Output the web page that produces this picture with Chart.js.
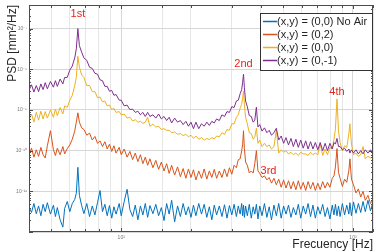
<!DOCTYPE html>
<html>
<head>
<meta charset="utf-8">
<script src="https://cdn.jsdelivr.net/npm/chart.js@4.4.1/dist/chart.umd.min.js"></script>
<style>
  html, body { margin: 0; padding: 0; background: #fff; }
  #wrap { width: 376px; height: 252px; }
</style>
</head>
<body>
<div id="wrap"><canvas id="psdChart" width="376" height="252"></canvas></div>
<script>
// frequency samples [Hz]
const freqHz = [
  40, 41, 42, 43, 44, 45, 46, 47, 48, 49.5,
  51, 52, 53, 54.5, 56, 57, 58.5, 60, 61.5, 63,
  64, 65, 66, 67.5, 69, 71, 73, 75, 77, 79,
  81, 83, 85, 87, 89, 91, 93, 95, 98, 100,
  103, 106, 109, 112, 115, 118, 121, 124, 127, 130,
  133, 137, 141, 145, 149, 153, 157, 161, 165, 170,
  175, 180, 185, 190, 195, 200, 205, 210, 216, 222,
  228, 234, 240, 246, 252, 258, 265, 272, 279, 286,
  293, 300, 307, 314, 320, 326, 331, 334, 337, 340,
  344, 350, 357, 364, 371, 377, 383, 389, 396, 405,
  415, 425, 435, 445, 456, 467, 478, 490, 502, 514,
  527, 540, 553, 567, 581, 595, 610, 625, 640, 656,
  672, 688, 705, 722, 740, 758, 776, 795, 814, 828,
  840, 853, 866, 880, 900, 920, 940, 960, 970, 985,
  1005, 1030, 1055, 1080, 1105, 1130, 1160, 1190, 1220
];

// log10 of PSD [mm^2/Hz]
const psdNoAir = [
  -11.38, -11.52, -11.3, -11.55, -11.36, -11.6, -11.32, -11.5, -11.28, -11.56,
  -11.34, -11.62, -11.4, -11.7, -11.88, -11.42, -11.25, -11.5, -11.3, -11.2,
  -11.05, -10.41, -11.1, -11.35, -11.55, -11.3, -11.62, -11.36, -11.58, -11.28,
  -10.98, -11.5, -11.32, -11.6, -11.35, -11.66, -11.38, -11.56, -11.3, -11.6,
  -11.25, -10.95, -11.45, -11.62, -11.34, -11.7, -11.36, -11.58, -11.3, -11.64,
  -11.35, -11.55, -11.32, -11.6, -11.4, -11.72, -11.3, -11.56, -11.22, -11.75,
  -11.36, -11.62, -11.3, -11.58, -11.38, -11.64, -11.34, -11.6, -11.3, -11.56,
  -11.32, -11.64, -11.38, -11.7, -11.34, -11.58, -11.36, -11.62, -11.33, -11.66,
  -11.35, -11.58, -11.32, -11.62, -11.36, -11.56, -11.3, -11.6, -11.34, -11.64,
  -11.36, -11.6, -11.32, -11.66, -11.38, -11.56, -11.32, -11.68, -11.36, -11.6,
  -11.3, -11.64, -11.38, -11.7, -11.34, -11.6, -11.3, -11.66, -11.36, -11.56,
  -11.34, -11.64, -11.4, -11.58, -11.32, -11.66, -11.36, -11.56, -11.3, -11.62,
  -11.34, -11.66, -11.38, -11.56, -11.32, -11.62, -11.4, -11.68, -11.34, -11.58,
  -11.32, -11.6, -11.36, -11.62, -11.3, -11.58, -11.34, -11.56, -11.28, -11.6,
  -11.26, -11.54, -11.3, -11.52, -11.25, -11.5, -11.22, -11.48, -11.26
];
const psdY2 = [
  -10.1, -9.94, -10.16, -9.98, -10.14, -9.92, -10.1, -10.18, -9.88, -9.51,
  -9.98, -10.12, -9.94, -10.1, -9.9, -10.08, -9.95, -9.86, -9.72, -9.52,
  -9.3, -9.07, -9.3, -9.44, -9.48, -9.62, -9.57, -9.74, -9.65, -9.82,
  -9.76, -9.9, -9.78, -9.96, -9.84, -10.02, -9.88, -10.06, -9.92, -10.1,
  -9.96, -10.16, -10.02, -10.22, -10.06, -10.27, -10.1, -10.32, -10.16, -10.36,
  -10.2, -10.42, -10.24, -10.46, -10.28, -10.5, -10.32, -10.56, -10.36, -10.6,
  -10.4, -10.64, -10.44, -10.68, -10.45, -10.66, -10.47, -10.72, -10.5, -10.68,
  -10.45, -10.7, -10.5, -10.66, -10.46, -10.68, -10.5, -10.66, -10.45, -10.64,
  -10.42, -10.58, -10.36, -10.42, -10.22, -10.2, -10.0, -9.86, -9.51, -9.95,
  -10.28, -10.36, -10.55, -10.5, -10.55, -10.32, -10.0, -10.5, -10.56, -10.66,
  -10.62, -10.72, -10.66, -10.8, -10.68, -10.84, -10.7, -10.9, -10.72, -10.92,
  -10.74, -10.94, -10.76, -10.96, -10.74, -10.95, -10.78, -10.98, -10.76, -10.94,
  -10.78, -10.98, -10.8, -10.96, -10.76, -10.92, -10.78, -10.9, -10.68, -10.62,
  -10.4, -9.95, -10.54, -10.68, -10.88, -10.7, -10.78, -10.48, -10.2, -10.7,
  -10.84, -11.04, -10.94, -11.14, -11.0, -11.22, -11.1, -11.3, -11.2
];
const psdY0 = [
  -9.26, -9.1, -9.3, -9.06, -9.25, -9.03, -9.22, -9.04, -9.2, -9.0,
  -9.18, -8.98, -9.14, -8.94, -9.1, -8.9, -8.94, -8.76, -8.64, -8.4,
  -8.2, -7.68, -7.95, -8.14, -8.2, -8.4, -8.4, -8.55, -8.55, -8.7,
  -8.68, -8.8, -8.78, -8.9, -8.88, -8.99, -8.96, -9.06, -9.04, -9.12,
  -9.1, -9.2, -9.18, -9.27, -9.24, -9.3, -9.28, -9.33, -9.3, -9.18,
  -9.4, -9.35, -9.42, -9.4, -9.48, -9.46, -9.5, -9.5, -9.56, -9.54,
  -9.6, -9.58, -9.63, -9.6, -9.66, -9.62, -9.7, -9.64, -9.72, -9.68,
  -9.74, -9.7, -9.73, -9.68, -9.71, -9.64, -9.66, -9.56, -9.6, -9.48,
  -9.5, -9.34, -9.34, -9.18, -9.12, -8.95, -8.86, -8.7, -8.54, -8.86,
  -9.18, -9.34, -9.56, -9.58, -9.72, -9.66, -9.45, -9.82, -9.74, -9.9,
  -9.82, -9.9, -9.86, -9.96, -9.9, -9.5, -10.06, -9.98, -10.04, -10.0,
  -10.08, -10.04, -10.1, -10.06, -10.12, -10.04, -10.08, -10.08, -10.12, -10.04,
  -10.1, -10.06, -10.1, -9.83, -10.12, -9.96, -10.1, -9.92, -9.96, -9.72,
  -9.48, -8.73, -9.52, -9.8, -10.0, -9.88, -9.92, -9.58, -9.34, -9.84,
  -10.1, -10.06, -10.14, -10.1, -9.9, -10.2, -10.14, -10.18, -10.16
];
const psdYm1 = [
  -8.52, -8.38, -8.56, -8.4, -8.55, -8.36, -8.5, -8.33, -8.48, -8.3,
  -8.44, -8.28, -8.42, -8.24, -8.36, -8.2, -8.2, -8.02, -7.92, -7.72,
  -7.5, -7.0, -7.42, -7.58, -7.72, -7.78, -7.95, -7.98, -8.1, -8.12,
  -8.26, -8.28, -8.42, -8.42, -8.54, -8.52, -8.64, -8.62, -8.76, -8.76,
  -8.9, -8.88, -8.99, -8.98, -9.06, -9.03, -9.12, -9.06, -9.16, -9.06,
  -9.16, -9.12, -9.2, -9.1, -9.22, -9.16, -9.26, -9.18, -9.32, -9.2,
  -9.3, -9.26, -9.36, -9.28, -9.4, -9.3, -9.46, -9.3, -9.46, -9.34,
  -9.4, -9.3, -9.38, -9.28, -9.32, -9.22, -9.26, -9.12, -9.16, -9.04,
  -9.06, -8.92, -8.94, -8.78, -8.76, -8.6, -8.5, -8.33, -8.12, -8.45,
  -8.78, -8.92, -9.14, -9.16, -9.3, -9.25, -8.93, -9.42, -9.36, -9.52,
  -9.44, -9.56, -9.5, -9.62, -9.56, -9.45, -9.74, -9.64, -9.82, -9.68,
  -9.86, -9.7, -9.9, -9.72, -9.92, -9.74, -9.94, -9.76, -9.96, -9.78,
  -9.96, -9.8, -9.98, -9.8, -10.0, -9.82, -10.0, -9.82, -9.96, -9.8,
  -9.84, -9.7, -9.9, -9.9, -9.98, -9.94, -10.02, -9.96, -10.06, -9.98,
  -10.06, -9.98, -10.08, -10.0, -10.08, -9.98, -10.06, -9.98, -10.06
];

const seriesLabels = ['(x,y) = (0,0) No Air', '(x,y) = (0,2)', '(x,y) = (0,0)', '(x,y) = (0,-1)'];
const seriesColors = ['#0072BD', '#D95319', '#EDB120', '#7E2F8E'];
const seriesLogs = [psdNoAir, psdY2, psdY0, psdYm1];

// mode labels: text, frequency [Hz], log10 level
const peakLabels = ['1st', '2nd', '3rd', '4th'];
const peakFreq = [65, 337, 432, 853];
const peakLevel = [-6.63, -7.88, -10.49, -8.56];

const xDecades = [100, 1000];
const xTickText = ['10\u00b2', '10\u00b3'];
const yDecades = [-11, -10, -9, -8, -7];
const yTickText = ['10\u207b\u00b9\u00b9', '10\u207b\u00b9\u2070', '10\u207b\u2079', '10\u207b\u2078', '10\u207b\u2077'];

const FONT = "'Liberation Sans', Arial, Helvetica, sans-serif";
const isDecade = v => Math.abs(Math.log10(v) - Math.round(Math.log10(v))) < 1e-6;

const datasets = seriesLogs.map((logs, i) => ({
  label: seriesLabels[i],
  data: logs.map((v, k) => ({ x: freqHz[k], y: Math.pow(10, v) })),
  borderColor: seriesColors[i],
  borderWidth: 1,
  pointRadius: 0,
  tension: 0,
  order: seriesLogs.length - 1 - i
}));

const framePlugin = {
  id: 'frame',
  afterDatasetsDraw(chart) {
    const { ctx, chartArea: a, scales } = chart;
    ctx.save();
    // box
    ctx.strokeStyle = '#4d4d4d';
    ctx.lineWidth = 1;
    ctx.strokeRect(a.left + 0.5, a.top + 0.5, a.right - a.left - 1, a.bottom - a.top - 1);
    // inward ticks
    ctx.beginPath();
    scales.x.ticks.forEach(t => {
      const px = Math.round(scales.x.getPixelForValue(t.value)) + 0.5;
      const len = isDecade(t.value) ? 4 : 3;
      ctx.moveTo(px, a.bottom); ctx.lineTo(px, a.bottom - len);
      ctx.moveTo(px, a.top); ctx.lineTo(px, a.top + len);
    });
    scales.y.ticks.forEach(t => {
      const py = Math.round(scales.y.getPixelForValue(t.value)) + 0.5;
      const len = isDecade(t.value) ? 4 : 2;
      ctx.moveTo(a.left, py); ctx.lineTo(a.left + len, py);
      ctx.moveTo(a.right, py); ctx.lineTo(a.right - len, py);
    });
    ctx.stroke();

    // mode labels
    ctx.fillStyle = '#e8231a';
    ctx.font = '11px ' + FONT;
    ctx.textAlign = 'center';
    ctx.textBaseline = 'middle';
    peakLabels.forEach((txt, i) => {
      ctx.fillText(txt, scales.x.getPixelForValue(peakFreq[i]), scales.y.getPixelForValue(Math.pow(10, peakLevel[i])));
    });

    // legend box
    const w = 112, h = 57;
    const bx = a.right - 1 - w, by = a.top + 8;
    ctx.fillStyle = '#fff';
    ctx.fillRect(bx, by, w, h);
    ctx.strokeStyle = '#333';
    ctx.strokeRect(bx + 0.5, by + 0.5, w, h);
    ctx.textAlign = 'left';
    chart.data.datasets.forEach((ds, i) => {
      const ry = by + 8.5 + 13 * i;
      ctx.strokeStyle = ds.borderColor;
      ctx.lineWidth = 1.5;
      ctx.beginPath();
      ctx.moveTo(bx + 3, ry); ctx.lineTo(bx + 17, ry);
      ctx.stroke();
      ctx.fillStyle = '#262626';
      ctx.fillText(ds.label, bx + 17, ry + 0.5);
    });
    ctx.restore();
  }
};

new Chart(document.getElementById('psdChart'), {
  type: 'line',
  data: { datasets },
  options: {
    responsive: false,
    animation: false,
    devicePixelRatio: 1,
    layout: { padding: { top: 5, right: 1, left: 0, bottom: 0 } },
    plugins: { legend: { display: false }, tooltip: { enabled: false } },
    scales: {
      x: {
        type: 'logarithmic',
        min: 40,
        max: 1220,
        afterFit: s => { s.height = 20; },
        border: { display: false },
        grid: {
          drawTicks: false,
          color: c => isDecade(c.tick.value) ? '#d6d6d6' : '#e6e6e6'
        },
        ticks: {
          autoSkip: false,
          maxRotation: 0,
          padding: 3,
          color: '#777',
          font: { size: 5, family: FONT },
          callback: v => {
            const i = xDecades.findIndex(d => Math.abs(v - d) < 1e-6 * d);
            return i >= 0 ? xTickText[i] : '';
          }
        },
        title: {
          display: true,
          text: 'Frecuency [Hz]',
          align: 'end',
          color: '#262626',
          padding: 0,
          font: { size: 12, family: FONT }
        }
      },
      y: {
        type: 'logarithmic',
        min: 1e-12,
        max: Math.pow(10, -6.42),
        afterFit: s => { s.width = 29; },
        border: { display: false },
        grid: {
          drawTicks: false,
          color: c => isDecade(c.tick.value) ? '#d6d6d6' : 'rgba(0,0,0,0)'
        },
        ticks: {
          autoSkip: false,
          padding: 2,
          color: '#777',
          font: { size: 5, family: FONT },
          callback: v => {
            const i = yDecades.indexOf(Math.round(Math.log10(v)));
            return isDecade(v) && i >= 0 ? yTickText[i] : '';
          }
        },
        title: {
          display: true,
          text: 'PSD [mm\u00b2/Hz]',
          align: 'end',
          color: '#262626',
          padding: { top: 5, bottom: 0 },
          font: { size: 12, family: FONT }
        }
      }
    }
  },
  plugins: [framePlugin]
});
</script>
</body>
</html>
